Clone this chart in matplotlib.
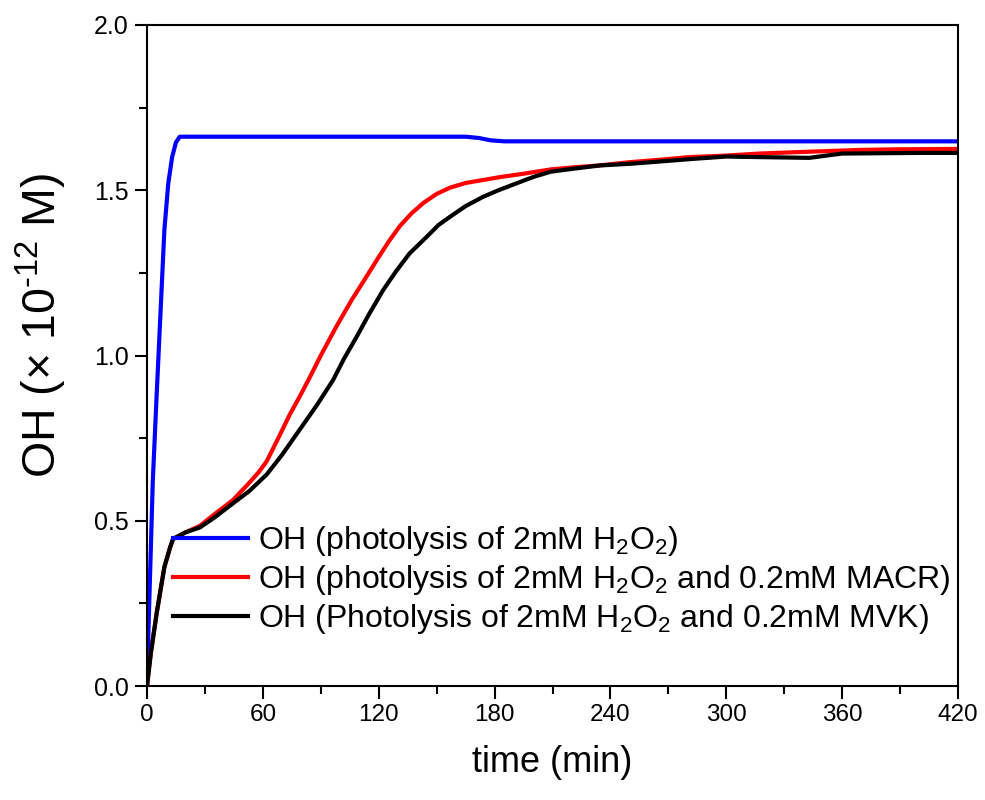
import matplotlib
matplotlib.use("Agg")
import matplotlib.pyplot as plt
from matplotlib.ticker import MultipleLocator

plt.rcParams['font.family'] = ['Liberation Sans', 'DejaVu Sans']
plt.rcParams['mathtext.fontset'] = 'custom'
plt.rcParams['mathtext.rm'] = 'Liberation Sans'
plt.rcParams['mathtext.it'] = 'Liberation Sans:italic'
plt.rcParams['mathtext.bf'] = 'Liberation Sans:bold'

# ---- data ----
t_blue = [0, 1, 2, 3, 5, 7, 9, 11, 13, 15, 17, 60, 120, 165, 172, 178, 185, 240, 300, 360, 420]
oh_blue = [0, 0.22, 0.42, 0.62, 0.88, 1.13, 1.38, 1.52, 1.60, 1.645, 1.662, 1.662, 1.662,
           1.662, 1.658, 1.651, 1.648, 1.648, 1.648, 1.648, 1.648]

t_red = [0, 2, 5, 9, 12, 13.5, 20, 27.5, 35, 44.6, 53, 58, 62, 68, 74, 79, 84.4, 90, 98, 106,
         113.8, 120, 125.8, 131, 137, 143, 150, 157, 165, 175, 183, 195, 209, 222, 234, 250,
         265, 280, 300, 317, 340, 369, 390, 420]
oh_red = [0, 0.10, 0.22, 0.36, 0.42, 0.445, 0.465, 0.485, 0.52, 0.563, 0.615, 0.648, 0.68,
          0.75, 0.822, 0.875, 0.935, 1.0, 1.087, 1.168, 1.24, 1.298, 1.35, 1.392, 1.430,
          1.461, 1.489, 1.508, 1.522, 1.532, 1.54, 1.55, 1.563, 1.57, 1.575, 1.585, 1.592,
          1.60, 1.605, 1.611, 1.616, 1.622, 1.624, 1.625]

t_black = [0, 2, 5, 9, 12, 13.5, 20, 27.5, 35, 44.6, 53, 62, 70, 79, 88, 96.4, 102, 108.6,
           115, 122.3, 129, 136, 145, 151, 157, 165, 174, 182, 191.4, 200, 209, 222, 234.6,
           250, 265.7, 283, 300, 320, 343, 352, 360, 380, 400, 420]
oh_black = [0, 0.10, 0.22, 0.36, 0.42, 0.445, 0.465, 0.48, 0.51, 0.553, 0.59, 0.64, 0.70,
            0.775, 0.85, 0.926, 0.99, 1.057, 1.125, 1.198, 1.255, 1.309, 1.36, 1.395, 1.42,
            1.452, 1.48, 1.50, 1.521, 1.54, 1.556, 1.566, 1.575, 1.58, 1.587, 1.595, 1.602,
            1.60, 1.598, 1.605, 1.611, 1.612, 1.613, 1.613]

labels = [r'OH (photolysis of 2mM H$_2$O$_2$)',
          r'OH (photolysis of 2mM H$_2$O$_2$ and 0.2mM MACR)',
          r'OH (Photolysis of 2mM H$_2$O$_2$ and 0.2mM MVK)']
xticks = [0, 60, 120, 180, 240, 300, 360, 420]
yticks = [0.0, 0.5, 1.0, 1.5, 2.0]

fig = plt.figure(figsize=(9.85, 8.0), dpi=100)
ax = fig.add_axes([147/985, 1 - 686/800, (958-147)/985, (686-25)/800])

lw = 3.0
ax.plot(t_blue, oh_blue, color='#0000ff', lw=lw, label=labels[0], solid_joinstyle='round')
ax.plot(t_red, oh_red, color='#ff0000', lw=lw, label=labels[1], solid_joinstyle='round')
ax.plot(t_black, oh_black, color='#000000', lw=lw, label=labels[2], solid_joinstyle='round')

ax.set_xlim(0, 420)
ax.set_ylim(0, 2.0)
ax.tick_params(which='major', direction='out', length=9, width=1.5, top=False, right=False, pad=4)
ax.tick_params(which='minor', direction='out', length=5.5, width=1.5, top=False, right=False)
ax.set_xticks(xticks)
ax.set_yticks(yticks)
ax.xaxis.set_minor_locator(MultipleLocator(30))
ax.yaxis.set_minor_locator(MultipleLocator(0.25))
ax.set_xticklabels([str(v) for v in xticks], fontsize=17.5)
ax.set_yticklabels([f'{v:.1f}' for v in yticks], fontsize=18)

for s in ax.spines.values():
    s.set_linewidth(1.5)

ax.set_xlabel('time (min)', fontsize=26, labelpad=14)
ax.set_ylabel(r'OH ($\times$ 10$^{\text{-12}}$ M)', fontsize=33.5)
ax.yaxis.set_label_coords(-0.096, 0.545)

leg = ax.legend(loc='upper left', bbox_to_anchor=(0.032, 0.245), frameon=False,
                fontsize=23, handlelength=2.35, handletextpad=0.3, labelspacing=0.16,
                borderpad=0, borderaxespad=0)

fig.savefig('out.png', dpi=100)
